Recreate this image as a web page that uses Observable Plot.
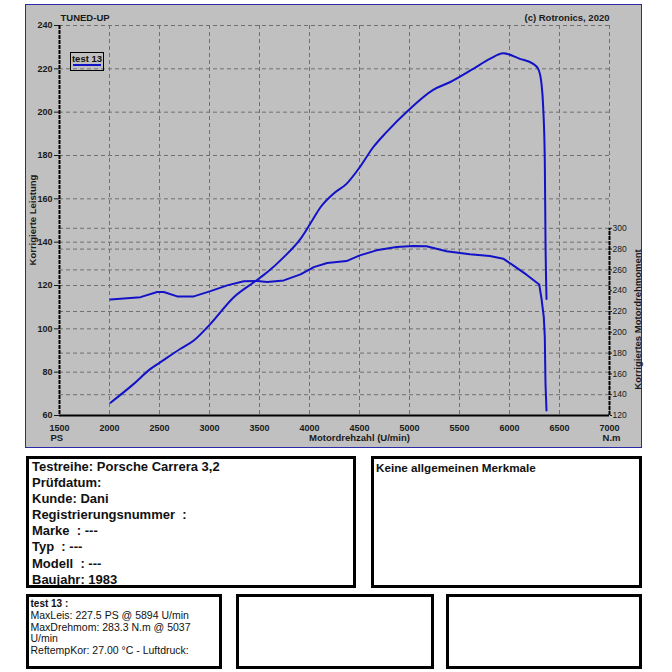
<!DOCTYPE html>
<html>
<head>
<meta charset="utf-8">
<script src="https://cdn.jsdelivr.net/npm/d3@7"></script>
<script src="https://cdn.jsdelivr.net/npm/@observablehq/plot@0.6"></script>
<style>
  body { margin: 0; background: #ffffff; }
  #wrap { position: relative; width: 672px; height: 672px; font-family: "Liberation Sans", Arial, sans-serif; color: #111; }
  #panel { position: absolute; left: 25px; top: 4px; width: 615px; height: 442px; border: 1px solid #2a2aa8; background: #c0c0c0; }
  #panel svg { position: absolute; left: 0; top: 0; }
  .box { position: absolute; box-sizing: border-box; border: 3px solid #000; background: #fff; overflow: hidden; }
  #legend { position: absolute; left: 44px; top: 47px; width: 34px; height: 19px; box-sizing: border-box; border: 1px solid #000;
            font-weight: bold; font-size: 9.5px; text-align: center; line-height: 12px; }
  #legend .sw { position: absolute; left: 2px; right: 2px; top: 11px; height: 2px; background: #1212c8; }
</style>
</head>
<body>
<div id="wrap">
  <div id="panel"><div id="legend">test 13<div class="sw"></div></div></div>
  <div class="box" style="left:26px;top:456px;width:330px;height:132px;padding:0 0 0 3px;font-weight:bold;font-size:13px;line-height:16.1px;">
    <div>Testreihe: Porsche Carrera 3,2</div>
    <div>Prüfdatum:</div>
    <div>Kunde: Dani</div>
    <div>Registrierungsnummer&nbsp; :</div>
    <div>Marke&nbsp; : ---</div>
    <div>Typ&nbsp; : ---</div>
    <div>Modell&nbsp; : ---</div>
    <div>Baujahr: 1983</div>
  </div>
  <div class="box" style="left:371px;top:456px;width:271px;height:132px;padding:3px 0 0 2px;font-weight:bold;font-size:11.7px;line-height:12px;">
    Keine allgemeinen Merkmale
  </div>
  <div class="box" style="left:26px;top:594px;width:196px;height:75px;padding:1px 0 0 1.5px;font-size:10.5px;line-height:11.75px;">
    <div style="font-weight:bold;font-size:10px;">test 13 :</div>
    <div>MaxLeis: 227.5 PS @ 5894 U/min</div>
    <div>MaxDrehmom: 283.3 N.m @ 5037</div>
    <div>U/min</div>
    <div>ReftempKor: 27.00 °C - Luftdruck:</div>
  </div>
  <div class="box" style="left:236px;top:594px;width:198px;height:75px;"></div>
  <div class="box" style="left:446px;top:594px;width:196px;height:75px;"></div>
</div>
<script>
// ---- data ----
const powerRpm = [2010, 2243, 2410, 2510, 2710, 2843, 3010, 3243, 3443, 3577, 3743, 3910, 4027, 4110, 4243, 4370, 4503, 4637, 4770, 4987, 5237, 5403, 5637, 5803, 5937, 6103, 6237, 6287, 6320, 6337, 6353, 6360, 6370];
const powerPS  = [65.9, 74.6, 81.5, 84.6, 90.8, 94.6, 102.3, 114.6, 121.5, 126.1, 133.1, 141.5, 150, 156.1, 162.5, 166.9, 174.6, 183.8, 190.8, 200.8, 210.3, 213.8, 220, 224.6, 227.2, 224.6, 222.3, 220, 213.1, 202.3, 177.7, 140.8, 113.8];
const torqueRpm = [2010, 2310, 2477, 2543, 2677, 2843, 3010, 3177, 3343, 3477, 3577, 3743, 3910, 4043, 4177, 4370, 4503, 4670, 4870, 5037, 5170, 5370, 5603, 5803, 5937, 6037, 6170, 6297, 6320, 6343, 6353, 6360, 6370];
const torqueNm  = [231.6, 233.8, 238.7, 238.7, 234.5, 234.5, 239.6, 245.1, 249, 249.3, 248.3, 249.9, 255.7, 262.7, 266.6, 268.5, 274, 278.8, 282, 283, 282.7, 278, 275, 273.3, 270.8, 264.4, 255.4, 246, 232.3, 214.6, 195.4, 150.5, 124.8];
const xTicks  = [1500, 2000, 2500, 3000, 3500, 4000, 4500, 5000, 5500, 6000, 6500, 7000];
const psTicks = [60, 80, 100, 120, 140, 160, 180, 200, 220, 240];
const nmTicks = [120, 140, 160, 180, 200, 220, 240, 260, 280, 300];
const psDomain = [60, 240];
const nmDomain = [120, 495];

// map torque onto the power scale (secondary axis)
const nm2ps = t => psDomain[0] + (t - nmDomain[0]) * (psDomain[1] - psDomain[0]) / (nmDomain[1] - nmDomain[0]);
const ps2nm = p => nmDomain[0] + (p - psDomain[0]) * (nmDomain[1] - nmDomain[0]) / (psDomain[1] - psDomain[0]);

// torque grid lines that would sit almost on top of a power grid line are merged with it
const nmGrid = nmTicks.slice(1).map(nm2ps).filter(p => d3.min(psTicks, q => Math.abs(q - p)) > 2.5);

const lineColor = "#1212c8";
const gridStyle = {stroke: "#707070", strokeWidth: 1, strokeDasharray: "4,3"};
const font = "'Liberation Sans', Arial, sans-serif";

const chart = Plot.plot({
  width: 615, height: 442,
  marginLeft: 33, marginRight: 32, marginTop: 20, marginBottom: 32,
  style: {background: "transparent", fontFamily: font, overflow: "visible", color: "#1a1a1a"},
  x: {domain: [xTicks[0], xTicks[xTicks.length - 1]]},
  y: {domain: psDomain},
  marks: [
    Plot.ruleX(xTicks.slice(1), gridStyle),
    Plot.ruleY(psTicks.slice(1), gridStyle),
    Plot.ruleY(nmGrid, gridStyle),
    Plot.line(powerPS, {x: powerRpm, y: powerPS, stroke: lineColor, strokeWidth: 2, curve: "monotone-x"}),
    Plot.line(torqueNm, {x: torqueRpm, y: torqueNm.map(nm2ps), stroke: lineColor, strokeWidth: 2, curve: "linear"}),
    Plot.ruleX([xTicks[0]], {stroke: "#000", strokeWidth: 2, strokeDasharray: "4,1"}),
    Plot.ruleX([xTicks[xTicks.length - 1]], {y1: psDomain[0], y2: nm2ps(nmTicks[nmTicks.length - 1]), stroke: "#000", strokeWidth: 2, strokeDasharray: "4,1"}),
    Plot.ruleY([psDomain[0]], {stroke: "#000", strokeWidth: 2}),
    Plot.axisY({anchor: "left", ticks: psTicks, tickSize: 5, tickPadding: 2, label: null, fontSize: 9, fontWeight: "bold"}),
    Plot.axisY({anchor: "right", ticks: nmTicks.map(nm2ps), tickFormat: d => String(Math.round(ps2nm(d))), tickSize: 2, tickPadding: 1, label: null, fontSize: 8.5}),
    Plot.axisX({ticks: xTicks, tickFormat: d => String(d), tickSize: 0, tickPadding: 9, label: null, fontSize: 9, fontWeight: "bold"}),
    Plot.text(["TUNED-UP"], {frameAnchor: "top-left", dx: 1, dy: -11, textAnchor: "start", fontSize: 9.5, fontWeight: "bold"}),
    Plot.text(["(c) Rotronics, 2020"], {frameAnchor: "top-right", dy: -11, textAnchor: "end", fontSize: 9.5, fontWeight: "bold"}),
    Plot.text(["Korrigierte Leistung"], {x: [1230], y: [150.2], rotate: -90, fontSize: 9.5, fontWeight: "bold"}),
    Plot.text(["Korrigiertes Motordrehmoment"], {x: [7287], y: [104.3], rotate: -90, fontSize: 9.5, fontWeight: "bold"}),
    Plot.text(["PS"], {frameAnchor: "bottom-left", dx: -9, dy: 25, fontSize: 9.5, fontWeight: "bold"}),
    Plot.text(["Motordrehzahl (U/min)"], {frameAnchor: "bottom", dx: 25, dy: 25, fontSize: 9.5, fontWeight: "bold"}),
    Plot.text(["N.m"], {frameAnchor: "bottom-right", dx: 11, dy: 25, fontSize: 9.5, fontWeight: "bold"})
  ]
});
document.getElementById("panel").insertBefore(chart, document.getElementById("legend"));
</script>
</body>
</html>
